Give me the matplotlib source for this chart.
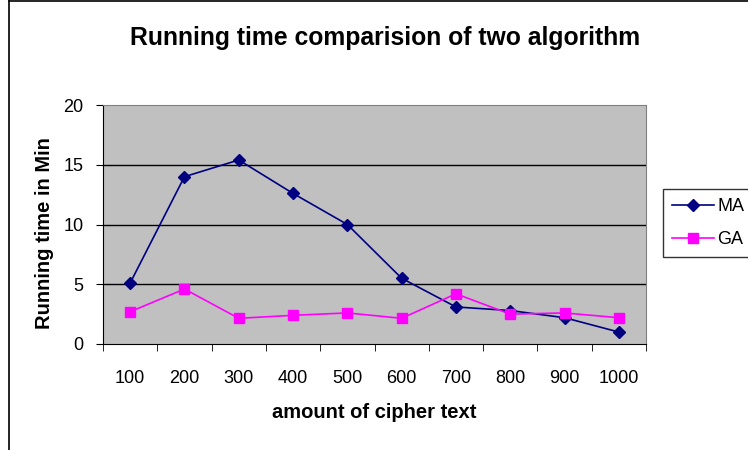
import matplotlib.pyplot as plt
from matplotlib.lines import Line2D

plt.rcParams['font.family'] = ['Liberation Sans', 'DejaVu Sans']

categories = ["100", "200", "300", "400", "500", "600", "700", "800", "900", "1000"]
ma_times = [5.1, 14.0, 15.4, 12.6, 10.0, 5.5, 3.1, 2.8, 2.2, 1.0]
ga_times = [2.7, 4.6, 2.15, 2.4, 2.6, 2.15, 4.2, 2.5, 2.6, 2.2]

W, H = 748, 450
fig = plt.figure(figsize=(W / 100, H / 100), dpi=100)
ax = fig.add_axes([103 / W, 1 - 344 / H, (646 - 103) / W, (344 - 105) / H])
ax.set_facecolor("#C0C0C0")

x = list(range(len(categories)))
ax.plot(x, ma_times, color="#000080", marker="D", markersize=6.5, linewidth=1.2, label="MA")
ax.plot(x, ga_times, color="#FF00FF", marker="s", markersize=6.5, linewidth=1.2, label="GA")

ax.set_xlim(-0.5, len(categories) - 0.5)
ax.set_ylim(0, 20)
ax.set_yticks([0, 5, 10, 15, 20])
ax.set_xticks(x)
ax.set_xticklabels(categories, fontsize=13)
ax.set_xticks([i - 0.5 for i in range(len(categories) + 1)], minor=True)
ax.tick_params(axis="x", which="major", length=0, pad=19)
ax.tick_params(axis="x", which="minor", length=5, direction="out", color="black")
ax.tick_params(axis="y", length=5, direction="out", labelsize=13, pad=9)

for v in [5, 10, 15]:
    ax.axhline(v, color="black", linewidth=1, zorder=0.5)

for side in ["top", "right"]:
    ax.spines[side].set_color("#808080")
for side in ["left", "bottom"]:
    ax.spines[side].set_color("black")

fig.text(385 / W, 1 - 38 / H, "Running time comparision of two algorithm",
         ha="center", va="center", fontsize=17.8, fontweight="bold")
fig.text(374 / W, 1 - 413 / H, "amount of cipher text",
         ha="center", va="center", fontsize=14.5, fontweight="bold")
fig.text(45 / W, 1 - 233 / H, "Running time in Min", rotation=90,
         ha="center", va="center", fontsize=14.5, fontweight="bold")

leg = fig.legend(loc="upper left", bbox_to_anchor=(663 / W, 1 - 189 / H),
                 fontsize=13, frameon=True, fancybox=False, edgecolor="black",
                 handlelength=2.3, handletextpad=0.2, borderpad=0.5,
                 labelspacing=0.9, borderaxespad=0)
leg.get_frame().set_linewidth(1)

# chart area border (cut off on right and bottom)
fig.add_artist(Line2D([9 / W, 9 / W], [0, 1 - 1 / H], color="black", linewidth=1.2))
fig.add_artist(Line2D([9 / W, 1], [1 - 1 / H, 1 - 1 / H], color="black", linewidth=1.2))

fig.savefig("out.png", dpi=100)
